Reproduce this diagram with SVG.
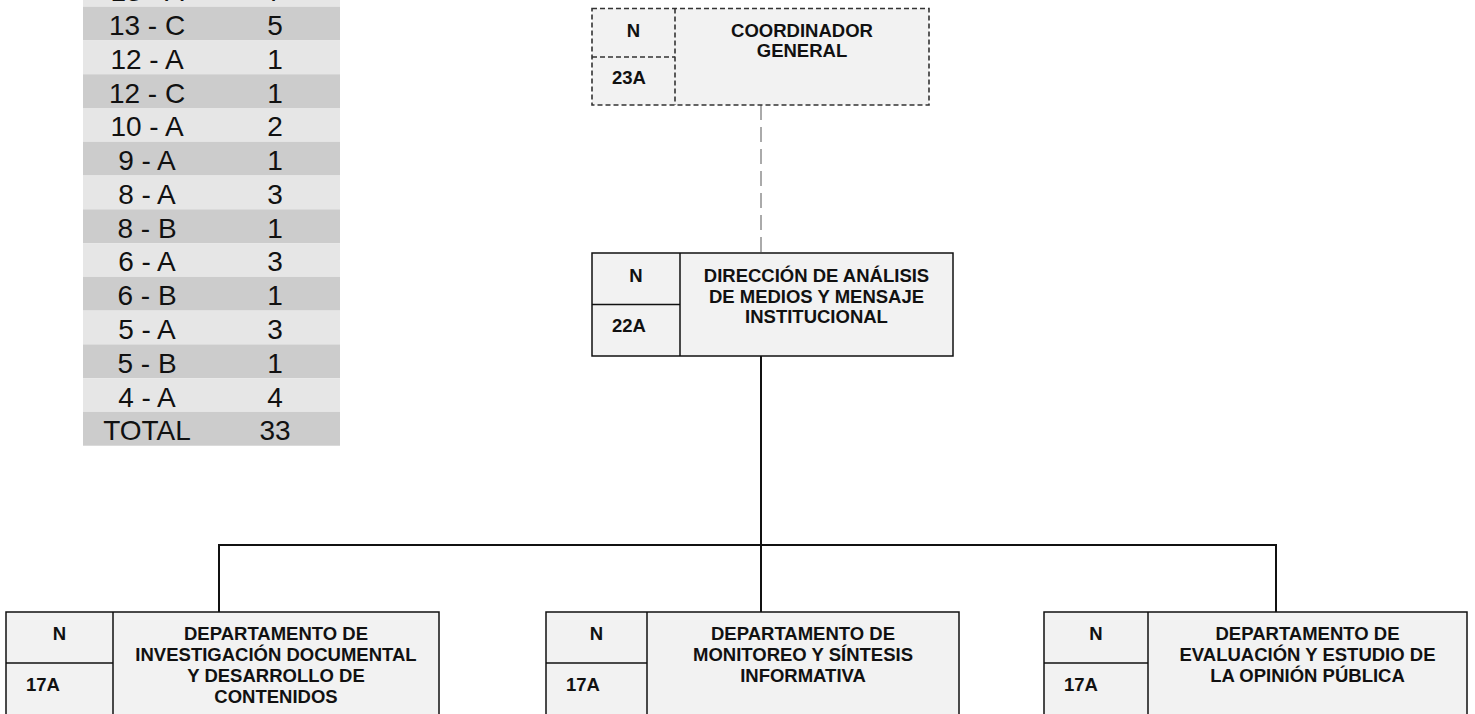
<svg xmlns="http://www.w3.org/2000/svg" width="1475" height="714" viewBox="0 0 1475 714">
  <style>
    .dark { fill: #cccccc; }
    .light { fill: #e6e6e6; }
    .tbl { font-family: "Liberation Sans", Arial, sans-serif; font-size: 28px; fill: #111; text-anchor: middle; }
    .box { fill: #f2f2f2; stroke: #111; stroke-width: 1.5; }
    .dbox { fill: #f2f2f2; stroke: #333; stroke-width: 1.6; stroke-dasharray: 5 3; }
    .div { stroke: #111; stroke-width: 1.5; fill: none; }
    .ddiv { stroke: #333; stroke-width: 1.6; stroke-dasharray: 5 3; fill: none; }
    .lbl { font-family: "Liberation Sans", Arial, sans-serif; font-weight: bold; font-size: 18.5px; fill: #111; }
    .mid { text-anchor: middle; }
    .conn { stroke: #111; stroke-width: 2; fill: none; }
    .dconn { stroke: #aaaaaa; stroke-width: 2; stroke-dasharray: 15 7; fill: none; }
  </style>

  <!-- salary level summary table -->
  <g id="level-table">
    <rect class="light" x="83" y="-27.07" width="257" height="33.77"/>
    <rect class="dark" x="83" y="6.70" width="257" height="33.77"/>
    <rect class="light" x="83" y="40.47" width="257" height="33.77"/>
    <rect class="dark" x="83" y="74.24" width="257" height="33.77"/>
    <rect class="light" x="83" y="108.01" width="257" height="33.77"/>
    <rect class="dark" x="83" y="141.78" width="257" height="33.77"/>
    <rect class="light" x="83" y="175.55" width="257" height="33.77"/>
    <rect class="dark" x="83" y="209.32" width="257" height="33.77"/>
    <rect class="light" x="83" y="243.09" width="257" height="33.77"/>
    <rect class="dark" x="83" y="276.86" width="257" height="33.77"/>
    <rect class="light" x="83" y="310.63" width="257" height="33.77"/>
    <rect class="dark" x="83" y="344.40" width="257" height="33.77"/>
    <rect class="light" x="83" y="378.17" width="257" height="33.77"/>
    <rect class="dark" x="83" y="411.94" width="257" height="33.77"/>

    <text class="tbl" x="147" y="1.2">13 - A</text><text class="tbl" x="275" y="1.2">7</text>
    <text class="tbl" x="147" y="35.0">13 - C</text><text class="tbl" x="275" y="35.0">5</text>
    <text class="tbl" x="147" y="68.8">12 - A</text><text class="tbl" x="275" y="68.8">1</text>
    <text class="tbl" x="147" y="102.5">12 - C</text><text class="tbl" x="275" y="102.5">1</text>
    <text class="tbl" x="147" y="136.3">10 - A</text><text class="tbl" x="275" y="136.3">2</text>
    <text class="tbl" x="147" y="170.1">9 - A</text><text class="tbl" x="275" y="170.1">1</text>
    <text class="tbl" x="147" y="203.9">8 - A</text><text class="tbl" x="275" y="203.9">3</text>
    <text class="tbl" x="147" y="237.6">8 - B</text><text class="tbl" x="275" y="237.6">1</text>
    <text class="tbl" x="147" y="271.4">6 - A</text><text class="tbl" x="275" y="271.4">3</text>
    <text class="tbl" x="147" y="305.2">6 - B</text><text class="tbl" x="275" y="305.2">1</text>
    <text class="tbl" x="147" y="338.9">5 - A</text><text class="tbl" x="275" y="338.9">3</text>
    <text class="tbl" x="147" y="372.7">5 - B</text><text class="tbl" x="275" y="372.7">1</text>
    <text class="tbl" x="147" y="406.5">4 - A</text><text class="tbl" x="275" y="406.5">4</text>
    <text class="tbl" x="147" y="440.2">TOTAL</text><text class="tbl" x="275" y="440.2">33</text>
  </g>

  <!-- connectors -->
  <g id="connectors">
    <line class="dconn" x1="761" y1="105" x2="761" y2="253"/>
    <line class="conn" x1="761" y1="356" x2="761" y2="545"/>
    <line class="conn" x1="219" y1="545" x2="1276" y2="545"/>
    <line class="conn" x1="219" y1="544" x2="219" y2="612"/>
    <line class="conn" x1="761" y1="544" x2="761" y2="612"/>
    <line class="conn" x1="1276" y1="544" x2="1276" y2="612"/>
  </g>

  <!-- general coordinator (dashed outline) -->
  <g id="coordinador-general">
    <rect class="dbox" x="592" y="8.5" width="337" height="96.5"/>
    <line class="ddiv" x1="675" y1="8.5" x2="675" y2="105"/>
    <line class="ddiv" x1="592" y1="57" x2="675" y2="57"/>
    <text class="lbl mid" x="633.5" y="37">N</text>
    <text class="lbl" x="612" y="83.5">23A</text>
    <text class="lbl mid" x="802" y="37">COORDINADOR</text>
    <text class="lbl mid" x="802" y="57">GENERAL</text>
  </g>

  <!-- directorate -->
  <g id="direccion-analisis">
    <rect class="box" x="592" y="253" width="361" height="103"/>
    <line class="div" x1="680" y1="253" x2="680" y2="356"/>
    <line class="div" x1="592" y1="304.5" x2="680" y2="304.5"/>
    <text class="lbl mid" x="636" y="282">N</text>
    <text class="lbl" x="612" y="332">22A</text>
    <text class="lbl mid" x="816.5" y="282">DIRECCIÓN DE ANÁLISIS</text>
    <text class="lbl mid" x="816.5" y="302.5">DE MEDIOS Y MENSAJE</text>
    <text class="lbl mid" x="816.5" y="323">INSTITUCIONAL</text>
  </g>

  <!-- departments -->
  <g id="depto-investigacion">
    <rect class="box" x="6" y="612" width="433" height="120"/>
    <line class="div" x1="113" y1="612" x2="113" y2="732"/>
    <line class="div" x1="6" y1="663" x2="113" y2="663"/>
    <text class="lbl mid" x="59.5" y="640">N</text>
    <text class="lbl" x="26" y="691">17A</text>
    <text class="lbl mid" x="276" y="640">DEPARTAMENTO DE</text>
    <text class="lbl mid" x="276" y="661">INVESTIGACIÓN DOCUMENTAL</text>
    <text class="lbl mid" x="276" y="682">Y DESARROLLO DE</text>
    <text class="lbl mid" x="276" y="703">CONTENIDOS</text>
  </g>

  <g id="depto-monitoreo">
    <rect class="box" x="546" y="612" width="413" height="120"/>
    <line class="div" x1="647" y1="612" x2="647" y2="732"/>
    <line class="div" x1="546" y1="663" x2="647" y2="663"/>
    <text class="lbl mid" x="596.5" y="640">N</text>
    <text class="lbl" x="566" y="691">17A</text>
    <text class="lbl mid" x="803" y="640">DEPARTAMENTO DE</text>
    <text class="lbl mid" x="803" y="661">MONITOREO Y SÍNTESIS</text>
    <text class="lbl mid" x="803" y="682">INFORMATIVA</text>
  </g>

  <g id="depto-evaluacion">
    <rect class="box" x="1044" y="612" width="423" height="120"/>
    <line class="div" x1="1148" y1="612" x2="1148" y2="732"/>
    <line class="div" x1="1044" y1="663" x2="1148" y2="663"/>
    <text class="lbl mid" x="1096" y="640">N</text>
    <text class="lbl" x="1064" y="691">17A</text>
    <text class="lbl mid" x="1307.5" y="640">DEPARTAMENTO DE</text>
    <text class="lbl mid" x="1307.5" y="661">EVALUACIÓN Y ESTUDIO DE</text>
    <text class="lbl mid" x="1307.5" y="682">LA OPINIÓN PÚBLICA</text>
  </g>
</svg>
